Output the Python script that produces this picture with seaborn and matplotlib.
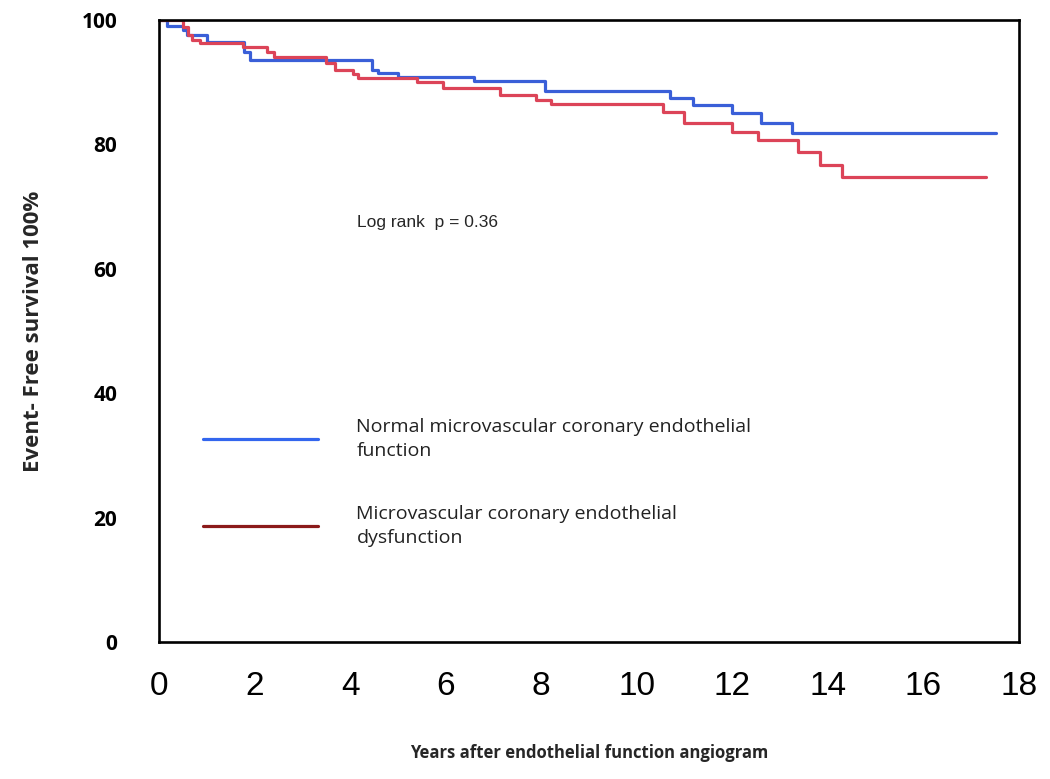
import matplotlib
matplotlib.use("Agg")
import numpy as np
import pandas as pd
import seaborn as sns
from matplotlib import pyplot as plt
from matplotlib.lines import Line2D

# Kaplan-Meier style step curves
BLUE_YEARS = [0, 0.17, 0.5, 0.58, 1.0, 1.78, 1.9, 4.45, 4.58, 5.0, 6.6, 8.07,
              10.7, 11.17, 12.0, 12.6, 13.24, 17.53]
BLUE_SURV = [100, 99.0, 98.4, 97.6, 96.5, 94.9, 93.6, 92.0, 91.5, 90.8, 90.2, 88.6,
             87.5, 86.3, 85.0, 83.4, 81.8, 81.8]

RED_YEARS = [0, 0.5, 0.6, 0.7, 0.86, 1.76, 2.26, 2.4, 3.5, 3.68, 4.06, 4.17, 5.4,
             5.94, 7.13, 7.9, 8.2, 10.55, 11.0, 12.0, 12.53, 13.37, 13.83, 14.29, 17.32]
RED_SURV = [100, 98.9, 97.6, 96.8, 96.3, 95.7, 94.9, 94.1, 93.1, 92.0, 91.3, 90.7, 90.0,
            89.1, 88.0, 87.1, 86.5, 85.2, 83.4, 82.0, 80.7, 78.8, 76.7, 74.8, 74.8]

GROUPS = ["Normal microvascular coronary endothelial\nfunction",
          "Microvascular coronary endothelial\ndysfunction"]
CURVE_COLORS = ["#3a5fd8", "#dc4458"]
LEGEND_COLORS = ["#3366ee", "#8b1a1a"]

X_TICKS = list(range(0, 19, 2))
Y_TICKS = list(range(0, 101, 20))
Y_MINOR = list(range(10, 100, 20))

df = pd.concat([
    pd.DataFrame({"years": BLUE_YEARS, "survival": BLUE_SURV, "group": GROUPS[0]}),
    pd.DataFrame({"years": RED_YEARS, "survival": RED_SURV, "group": GROUPS[1]}),
], ignore_index=True)

sns.set_style("white")
plt.rcParams["font.family"] = ["Open Sans", "DejaVu Sans"]

fig = plt.figure(figsize=(10.5, 7.79), dpi=100)
ax = fig.add_axes([0.1514, 0.1759, 0.8190, 0.7984])

sns.lineplot(
    data=df, x="years", y="survival", hue="group",
    hue_order=GROUPS, palette=dict(zip(GROUPS, CURVE_COLORS)),
    drawstyle="steps-post", estimator=None, sort=False,
    linewidth=2.3, legend=False, ax=ax,
)

ax.set_xlim(0, 18)
ax.set_ylim(0, 100)
for side in ["top", "right", "bottom", "left"]:
    ax.spines[side].set_visible(True)
    ax.spines[side].set_color("black")
    ax.spines[side].set_linewidth(1.9)

ax.set_xticks(X_TICKS)
ax.set_yticks(Y_TICKS)
ax.set_yticks(Y_MINOR, minor=True)
ax.tick_params(axis="x", direction="out", length=16, width=1.6, pad=5,
               labelsize=24, colors="black")
ax.tick_params(axis="y", which="both", direction="out", length=12, width=1.6,
               pad=18, colors="black")
for lab in ax.get_xticklabels():
    lab.set_family(["Liberation Sans", "DejaVu Sans"])
for lab in ax.get_yticklabels():
    lab.set_fontsize(15)
    lab.set_fontweight("bold")

ax.set_xlabel("Years after endothelial function angiogram", fontsize=12,
              fontweight="bold", labelpad=30)
ax.set_ylabel("Event- Free survival 100%", fontsize=16, fontweight="bold",
              labelpad=27)

ax.text(4.14, 67.5, "Log rank  p = 0.36", fontsize=12.5, va="center", ha="left",
        family=["Liberation Sans", "DejaVu Sans"])

handles = [Line2D([], [], color=c, linewidth=2.3) for c in LEGEND_COLORS]
leg = ax.legend(handles, GROUPS, loc="upper left", bbox_to_anchor=(0.051, 0.360),
                frameon=False, fontsize=14, handlelength=5.9, handletextpad=2.0,
                labelspacing=2.3, borderpad=0, borderaxespad=0)
for t in leg.get_texts():
    t.set_linespacing(1.45)
    t.set_color("#222222")

fig.savefig("out.png", dpi=100)
